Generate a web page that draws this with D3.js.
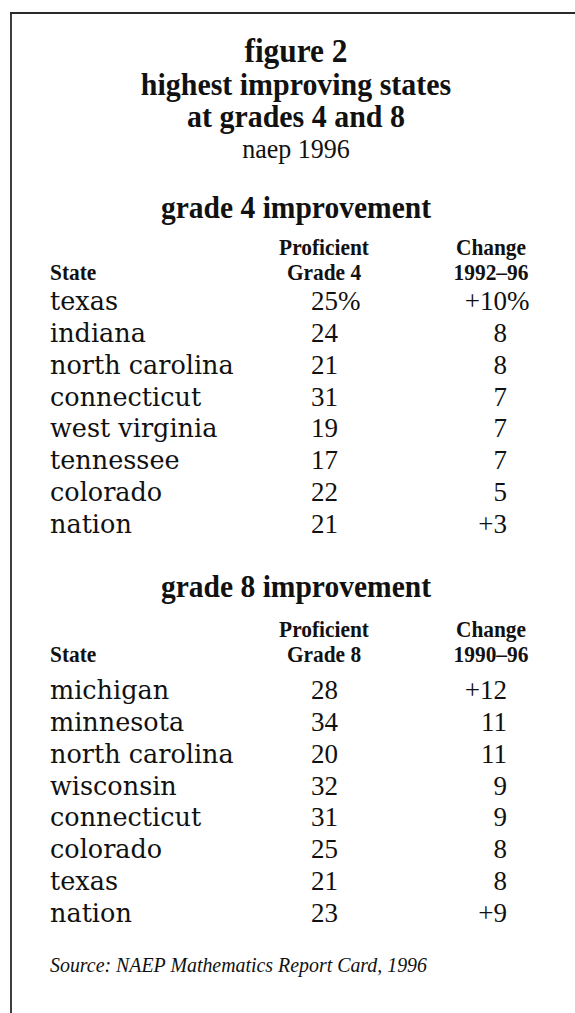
<!DOCTYPE html>
<html>
<head>
<meta charset="utf-8">
<script src="https://cdn.jsdelivr.net/npm/d3@7"></script>
<style>
  body { margin: 0; background: #fff; }
  svg { display: block; }
  .title { font-family: "Liberation Serif", serif; font-weight: bold; fill: #111; }
  .sub { font-family: "Liberation Serif", serif; fill: #111; }
  .head { font-family: "Liberation Serif", serif; font-weight: bold; fill: #111; }
  .state { font-family: "DejaVu Serif", serif; fill: #111; }
  .num { font-family: "Liberation Serif", serif; fill: #111; }
  .source { font-family: "Liberation Serif", serif; font-style: italic; fill: #111; }
</style>
</head>
<body>
<svg id="chart" width="575" height="1013"></svg>
<script>
// Table data
const titleLines = ["figure 2", "highest improving states", "at grades 4 and 8"];
const subtitle = "naep 1996";

const grade4States = ["texas", "indiana", "north carolina", "connecticut", "west virginia", "tennessee", "colorado", "nation"];
const grade4Proficient = [25, 24, 21, 31, 19, 17, 22, 21];
const grade4Change = [10, 8, 8, 7, 7, 7, 5, 3];

const grade8States = ["michigan", "minnesota", "north carolina", "wisconsin", "connecticut", "colorado", "texas", "nation"];
const grade8Proficient = [28, 34, 20, 32, 31, 25, 21, 23];
const grade8Change = [12, 11, 11, 9, 9, 8, 8, 9];

const sourceText = "Source:  NAEP Mathematics Report Card, 1996";

const svg = d3.select('#chart');
const cx = 296;

// squeeze text horizontally so taller glyphs keep the original width
function condense(sel, f) {
    sel.each(function() {
        const w = this.getComputedTextLength();
        d3.select(this).attr('textLength', w * f).attr('lengthAdjust', 'spacingAndGlyphs');
    });
    return sel;
}

// Frame: top and left rules only
svg.append('line')
    .attr('x1', 10).attr('x2', 575).attr('y1', 13).attr('y2', 13)
    .attr('stroke', '#2a2a2a').attr('stroke-width', 1.8);
svg.append('line')
    .attr('x1', 11).attr('x2', 11).attr('y1', 13).attr('y2', 1013)
    .attr('stroke', '#2a2a2a').attr('stroke-width', 1.8);

// Title block
const titleY = d3.scalePoint().domain(titleLines).range([62, 127]);
svg.selectAll('text.title')
    .data(titleLines)
    .join('text')
    .attr('class', 'title')
    .attr('x', cx)
    .attr('y', d => titleY(d))
    .attr('text-anchor', 'middle')
    .attr('font-size', (d, i) => i === 0 ? 33 : 31.5)
    .text(d => d)
    .call(condense, 0.95);

svg.append('text')
    .attr('class', 'sub')
    .attr('x', cx).attr('y', 158)
    .attr('text-anchor', 'middle')
    .attr('font-size', 28)
    .text(subtitle)
    .call(condense, 0.93);

// Column positions
const col = { state: 50, prof: 311, change: 507 };

function drawSection(opt) {
    const g = svg.append('g');

    g.append('text')
        .attr('class', 'head')
        .attr('x', cx).attr('y', opt.headY)
        .attr('text-anchor', 'middle')
        .attr('font-size', 31)
        .attr('textLength', 270)
        .attr('lengthAdjust', 'spacingAndGlyphs')
        .text(opt.heading);

    // column headers
    const hdr = g.append('g').attr('class', 'head').attr('font-size', 22.5);
    hdr.append('text').attr('x', col.state).attr('y', opt.hdrY2).text('State');
    hdr.append('text').attr('x', 324).attr('y', opt.hdrY1).attr('text-anchor', 'middle').text('Proficient');
    hdr.append('text').attr('x', 324).attr('y', opt.hdrY2).attr('text-anchor', 'middle').text(opt.gradeLabel);
    hdr.append('text').attr('x', 491).attr('y', opt.hdrY1).attr('text-anchor', 'middle').text('Change');
    hdr.append('text').attr('x', 491).attr('y', opt.hdrY2).attr('text-anchor', 'middle').text(opt.period);
    hdr.selectAll('text').call(condense, 0.95);

    const y = d3.scalePoint().domain(opt.states).range(opt.rowRange);
    const last = opt.states.length - 1;

    const rows = g.selectAll('g.row')
        .data(opt.states.map((s, i) => ({ state: s, prof: opt.prof[i], change: opt.change[i], i })))
        .join('g')
        .attr('class', 'row')
        .attr('transform', d => `translate(0,${y(d.state)})`);

    rows.append('text')
        .attr('class', 'state')
        .attr('x', col.state)
        .attr('font-size', 25.5)
        .text(d => d.state);

    rows.append('text')
        .attr('class', 'num')
        .attr('x', col.prof)
        .attr('font-size', 27)
        .text(d => d.prof + (d.i === 0 && opt.percent ? '%' : ''));

    rows.append('text')
        .attr('class', 'num')
        .attr('x', col.change)
        .attr('text-anchor', 'end')
        .attr('font-size', 27)
        .text(d => (d.i === 0 || d.i === last ? '+' : '') + d.change);

    rows.filter(d => d.i === 0 && opt.percent)
        .append('text')
        .attr('class', 'num')
        .attr('x', col.change)
        .attr('font-size', 27)
        .text('%');
}

drawSection({
    heading: 'grade 4 improvement', headY: 218,
    hdrY1: 255, hdrY2: 280, gradeLabel: 'Grade 4', period: '1992\u201396',
    states: grade4States, prof: grade4Proficient, change: grade4Change,
    rowRange: [310, 533], percent: true
});

drawSection({
    heading: 'grade 8 improvement', headY: 597,
    hdrY1: 637, hdrY2: 662, gradeLabel: 'Grade 8', period: '1990\u201396',
    states: grade8States, prof: grade8Proficient, change: grade8Change,
    rowRange: [699, 922], percent: false
});

svg.append('text')
    .attr('class', 'source')
    .attr('x', 50).attr('y', 972)
    .attr('font-size', 21)
    .attr('textLength', 377)
    .attr('lengthAdjust', 'spacingAndGlyphs')
    .text(sourceText);
</script>
</body>
</html>
